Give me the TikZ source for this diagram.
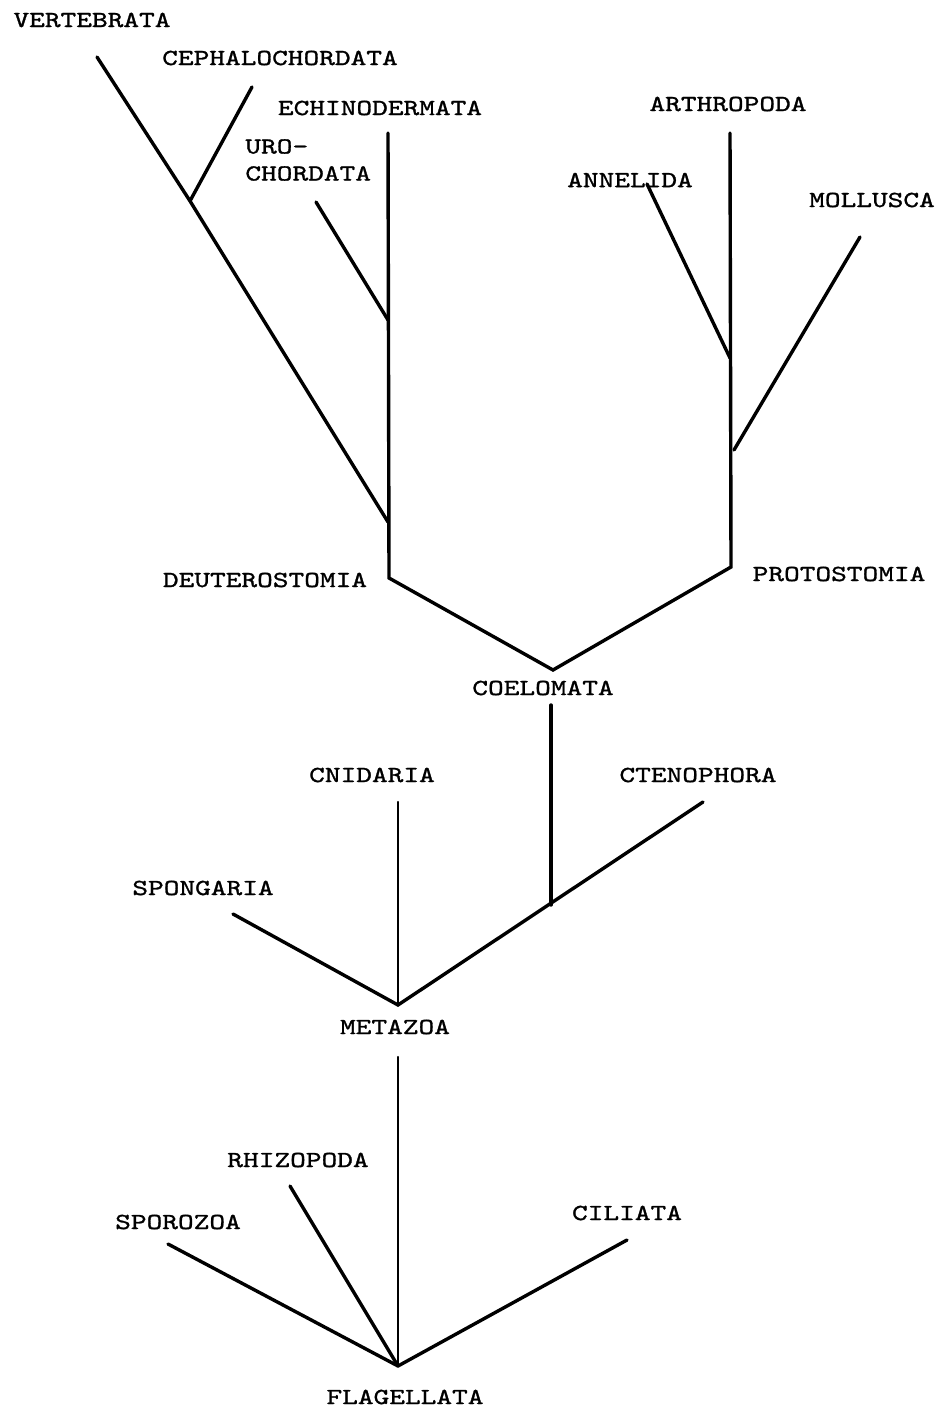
\documentclass[tikz,border=0pt]{standalone}
\usepackage{fontspec}
\newfontfamily\typer{lmmono10-regular}[Extension=.otf, FakeStretch=1.3, FakeBold=1.2]
\usepackage{tikz}

\begin{document}
\begin{tikzpicture}[x=0.5pt, y=-0.5pt,
  lbl/.style={font=\typer\fontsize{11.5}{13.5}\selectfont, inner sep=0pt},
  br/.style={line width=1.7pt, line cap=round},
  thinbr/.style={line width=1.2pt, line cap=round}]
  \useasboundingbox (0,0) rectangle (950,1412);
  % labels
  \node[lbl] (vert) at (92,20) {VERTEBRATA};
  \node[lbl] (ceph) at (280,58) {CEPHALOCHORDATA};
  \node[lbl] (echi) at (380,108) {ECHINODERMATA};
  \node[lbl, align=left, anchor=west] (uro) at (245,160) {URO-\\CHORDATA};
  \node[lbl] (arth) at (728,104) {ARTHROPODA};
  \node[lbl] (anne) at (630,180) {ANNELIDA};
  \node[lbl] (moll) at (872,200) {MOLLUSCA};
  \node[lbl] (deut) at (265,580) {DEUTEROSTOMIA};
  \node[lbl] (prot) at (839,574) {PROTOSTOMIA};
  \node[lbl] (coel) at (543,688) {COELOMATA};
  \node[lbl] (cnid) at (372,775) {CNIDARIA};
  \node[lbl] (cten) at (698,775) {CTENOPHORA};
  \node[lbl] (spon) at (203,888) {SPONGARIA};
  \node[lbl] (meta) at (395,1027) {METAZOA};
  \node[lbl] (rhiz) at (298,1160) {RHIZOPODA};
  \node[lbl] (spor) at (178,1222) {SPOROZOA};
  \node[lbl] (cili) at (627,1213) {CILIATA};
  \node[lbl] (flag) at (405,1397) {FLAGELLATA};
  % branch points and tips
  \coordinate (vertTip) at (97,57);
  \coordinate (cephTip) at (252,87);
  \coordinate (cephJ) at (190,201);
  \coordinate (echiTip) at (388,133);
  \coordinate (uroTip) at (316,202);
  \coordinate (uroJ) at (388,320);
  \coordinate (vertJ) at (388,522);
  \coordinate (deutJ) at (389,578);
  \coordinate (arthTip) at (730,133);
  \coordinate (anneTip) at (647,184);
  \coordinate (anneJ) at (730,358);
  \coordinate (mollTip) at (860,237);
  \coordinate (mollJ) at (734,450);
  \coordinate (protJ) at (731,567);
  \coordinate (coelJ) at (553,670);
  \coordinate (coelStem) at (551,705);
  \coordinate (coelJoin) at (551,905);
  \coordinate (metaJ) at (398,1005);
  \coordinate (cnidTip) at (398,802);
  \coordinate (ctenTip) at (703,802);
  \coordinate (sponTip) at (233,914);
  \coordinate (metaStem) at (398,1057);
  \coordinate (flagJ) at (398,1366);
  \coordinate (rhizTip) at (290,1186);
  \coordinate (sporTip) at (168,1244);
  \coordinate (ciliTip) at (627,1240);
  % coelomata
  \draw[br] (echiTip) -- (deutJ) -- (coelJ) -- (protJ) -- (arthTip);
  \draw[br] (vertTip) -- (cephJ) -- (vertJ);
  \draw[br] (cephTip) -- (cephJ);
  \draw[br] (uroTip) -- (uroJ);
  \draw[br] (anneTip) -- (anneJ);
  \draw[br] (mollTip) -- (mollJ);
  \draw[br] (coelStem) -- (coelJoin);
  % metazoa
  \draw[br] (sponTip) -- (metaJ) -- (ctenTip);
  \draw[thinbr] (cnidTip) -- (metaJ);
  % protozoa
  \draw[thinbr] (metaStem) -- (flagJ);
  \draw[br] (rhizTip) -- (flagJ);
  \draw[br] (sporTip) -- (flagJ);
  \draw[br] (ciliTip) -- (flagJ);
\end{tikzpicture}
\end{document}
